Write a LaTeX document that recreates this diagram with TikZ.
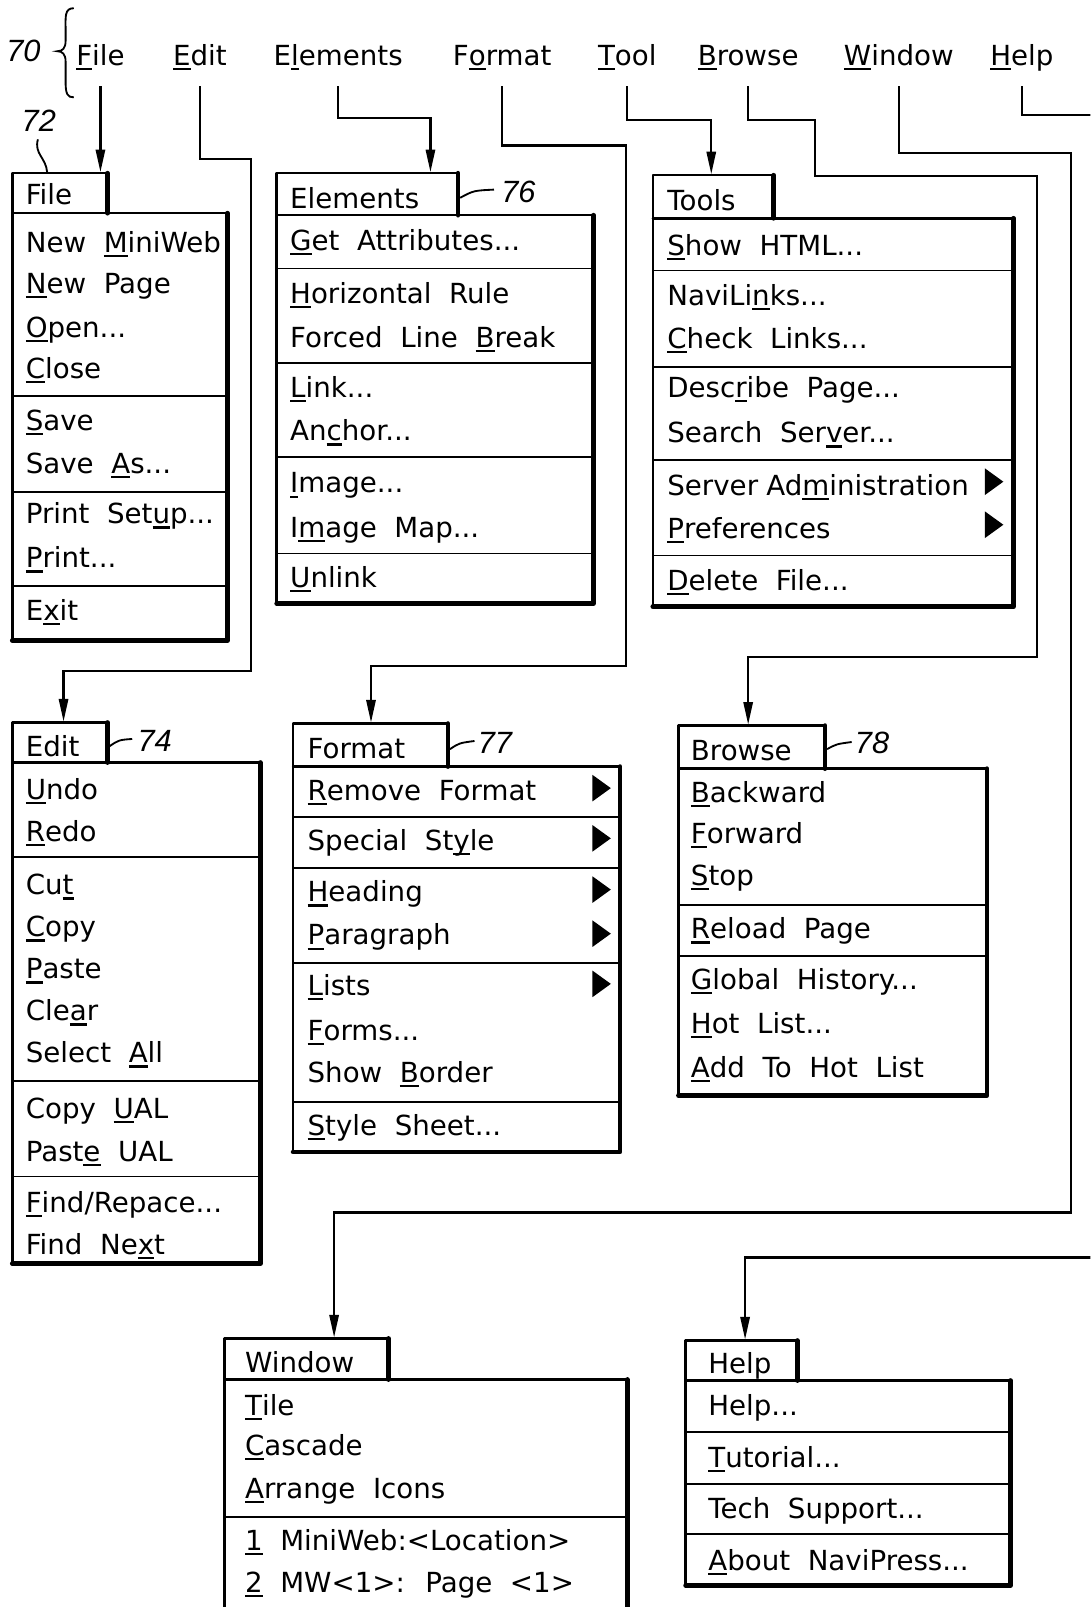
\documentclass[tikz,border=0pt]{standalone}
\usepackage{fontspec}
\setmainfont{DejaVu Sans}[WordSpace=2]
\newfontfamily\numfont{Liberation Sans}
\usetikzlibrary{arrows.meta}
\newbox\ulbox
\newcommand\ul[1]{\setbox\ulbox\hbox{#1}\rlap{\vrule height -2.5pt depth 4.7pt width \wd\ulbox}\box\ulbox}
\newcommand\mfont{\fontsize{27}{32}\selectfont}
\newcommand\rfont{\numfont\itshape\fontsize{30}{36}\selectfont}
\newcommand\mx{0}
\newcommand\mi[3]{\node[item] (#1) at (\mx,#2) {#3};}
\newcommand\menubox[6]{%
  \draw[boxline] (#1,#6) -- (#1,#2) -- (#3,#2);
  \draw[shadowline] (#3,#2) -- (#3,#4);
  \draw[boxline] (#1,#4) -- (#5,#4);
  \draw[shadowline] (#5,#4) -- (#5,#6) -- (#1,#6);}
\newcommand\sep[3]{\draw[sepline] (#1,#3) -- (#2,#3);}
\newcommand\tri[2]{\fill (#1,#2-13) -- (#1+18,#2) -- (#1,#2+13) -- cycle;}
\begin{document}
\begin{tikzpicture}[x=1pt,y=-1pt,
  boxline/.style={line width=2.4pt,line cap=round,line join=round},
  shadowline/.style={line width=4.6pt,line cap=round,line join=round},
  sepline/.style={line width=1.8pt},
  conn/.style={line width=2.2pt},
  arr/.style={conn,-{Triangle[width=9pt,length=22pt]}},
  item/.style={anchor=base west,inner sep=0pt,font=\mfont},
  bar/.style={anchor=base,inner xsep=0pt,inner ysep=14pt,text height=20pt,text depth=6pt,font=\mfont},
  refnum/.style={anchor=base west,inner sep=0pt,font=\rfont},
  leader/.style={line width=1.8pt}]
\useasboundingbox (0,0) rectangle (1064,1568);
\clip (0,0) rectangle (1064,1568);

% ---------- menu bar ----------
\node[refnum] (r70) at (6,60) {70};
\draw[leader] (72,8) .. controls (63,8) and (64,16) .. (64,28) -- (64,40)
  .. controls (64,47) and (61,50) .. (56,50)
  .. controls (61,50) and (64,53) .. (64,60) -- (64,80)
  .. controls (64,92) and (66,95) .. (72,95);
\node[bar] (bFile) at (98,64) {\ul{F}ile};
\node[bar] (bEdit) at (195,64) {\ul{E}dit};
\node[bar] (bElem) at (330,64) {E\ul{l}ements};
\node[bar] (bFormat) at (490,64) {F\ul{o}rmat};
\node[bar] (bTool) at (612,64) {\ul{T}ool};
\node[bar] (bBrowse) at (730,64) {\ul{B}rowse};
\node[bar] (bWindow) at (877,64) {\ul{W}indow};
\node[bar] (bHelp) at (997,64) {\ul{H}elp};

% arrow targets on the tabs
\coordinate (inFile) at (98,168);
\coordinate (inElem) at (420,168);
\coordinate (inTool) at (694,170);
\coordinate (inEdit) at (62,704);
\coordinate (inFormat) at (362,705);
\coordinate (inBrowse) at (730,707);
\coordinate (inWindow) at (326,1305);
\coordinate (inHelp) at (727,1307);

% ---------- connectors ----------
\draw[arr] (bFile.south) -- (inFile);
\draw[arr] (bEdit.south) |- (245,155) |- (62,655) -- (inEdit);
\draw[arr] (bElem.south) |- (420,115) -- (inElem);
\draw[arr] (bFormat.south) |- (611,142) |- (362,650) -- (inFormat);
\draw[arr] (bTool.south) |- (694,117) -- (inTool);
\draw[arr] (bBrowse.south) |- (795,117) |- (1012,172) |- (730,641) -- (inBrowse);
\draw[arr] (bWindow.south) |- (1045,149) |- (326,1183) -- (inWindow);
\draw[arr] (bHelp.south) |- (1085,112) |- (727,1227) -- (inHelp);

% ---------- File menu ----------
\node[refnum] (r72) at (21,128) {72};
\draw[leader] (37,136) .. controls (33,150) and (45,154) .. (46,168);
\menubox{12}{169}{105}{208}{222}{625}
\sep{12}{222}{386}\sep{12}{222}{480}\sep{12}{222}{572}
\renewcommand\mx{25}
\mi{tFile}{200}{File}
\mi{f1}{246}{New \ul{M}iniWeb}
\mi{f2}{286}{\ul{N}ew Page}
\mi{f3}{329}{\ul{O}pen...}
\mi{f4}{369}{\ul{C}lose}
\mi{f5}{420}{\ul{S}ave}
\mi{f6}{462}{Save \ul{A}s...}
\mi{f7}{511}{Print Set\ul{u}p...}
\mi{f8}{554}{\ul{P}rint...}
\mi{f9}{605}{E\ul{x}it}

% ---------- Elements menu ----------
\menubox{270}{169}{447}{210}{579}{589}
\sep{270}{579}{262}\sep{270}{579}{354}\sep{270}{579}{446}\sep{270}{579}{540}
\draw[leader] (449,193) .. controls (462,186) .. (482,185);
\node[refnum] (r76) at (489,198) {76};
\renewcommand\mx{283}
\mi{tElem}{203}{Elements}
\mi{e1}{244}{\ul{G}et Attributes...}
\mi{e2}{296}{\ul{H}orizontal Rule}
\mi{e3}{339}{Forced Line \ul{B}reak}
\mi{e4}{388}{\ul{L}ink...}
\mi{e5}{430}{An\ul{c}hor...}
\mi{e6}{481}{\ul{I}mage...}
\mi{e7}{524}{I\ul{m}age Map...}
\mi{e8}{573}{\ul{U}nlink}

% ---------- Tools menu ----------
\menubox{637}{171}{755}{213}{989}{592}
\sep{637}{989}{264}\sep{637}{989}{358}\sep{637}{989}{449}\sep{637}{989}{542}
\renewcommand\mx{651}
\mi{tTool}{205}{Tools}
\mi{t1}{249}{\ul{S}how HTML...}
\mi{t2}{298}{NaviLi\ul{n}ks...}
\mi{t3}{340}{\ul{C}heck Links...}
\mi{t4}{388}{Desc\ul{r}ibe Page...}
\mi{t5}{432}{Search Ser\ul{v}er...}
\mi{t6}{483}{Server\kern8pt Ad\ul{m}inistration}
\mi{t7}{525}{\ul{P}references}
\mi{t8}{576}{\ul{D}elete File...}
\tri{961}{470}\tri{961}{512}

% ---------- Edit menu ----------
\menubox{12}{705}{105}{744}{254}{1233}
\sep{12}{254}{836}\sep{12}{254}{1055}\sep{12}{254}{1148}
\draw[leader] (107,728) .. controls (116,722) .. (129,721);
\node[refnum] (r74) at (134,733) {74};
\renewcommand\mx{25}
\mi{tEdit}{738}{Edit}
\mi{d1}{780}{\ul{U}ndo}
\mi{d2}{821}{\ul{R}edo}
\mi{d3}{873}{Cu\ul{t}}
\mi{d4}{914}{\ul{C}opy}
\mi{d5}{955}{\ul{P}aste}
\mi{d6}{996}{Cle\ul{a}r}
\mi{d7}{1037}{Select \ul{A}ll}
\mi{d8}{1091}{Copy \ul{U}AL}
\mi{d9}{1133}{Past\ul{e} UAL}
\mi{d10}{1183}{\ul{F}ind/Repace...}
\mi{d11}{1224}{Find Ne\ul{x}t}

% ---------- Format menu ----------
\menubox{286}{706}{437}{748}{605}{1124}
\sep{286}{605}{797}\sep{286}{605}{847}\sep{286}{605}{940}\sep{286}{605}{1075}
\draw[leader] (439,731) .. controls (448,725) .. (463,723);
\node[refnum] (r77) at (466,735) {77};
\renewcommand\mx{300}
\mi{tFormat}{740}{Format}
\mi{m1}{781}{\ul{R}emove Format}
\mi{m2}{830}{Special St\ul{y}le}
\mi{m3}{880}{\ul{H}eading}
\mi{m4}{922}{\ul{P}aragraph}
\mi{m5}{971}{\ul{L}ists}
\mi{m6}{1015}{\ul{F}orms...}
\mi{m7}{1056}{Show \ul{B}order}
\mi{m8}{1108}{\ul{S}tyle Sheet...}
\tri{578}{769}\tri{578}{818}\tri{578}{868}\tri{578}{911}\tri{578}{960}

% ---------- Browse menu ----------
\menubox{662}{708}{805}{750}{963}{1069}
\sep{662}{963}{883}\sep{662}{963}{933}
\draw[leader] (807,731) .. controls (816,726) .. (831,724);
\node[refnum] (r78) at (834,735) {78};
\renewcommand\mx{674}
\mi{tBrowse}{742}{Browse}
\mi{w1}{783}{\ul{B}ackward}
\mi{w2}{823}{\ul{F}orward}
\mi{w3}{864}{\ul{S}top}
\mi{w4}{916}{\ul{R}eload Page}
\mi{w5}{965}{\ul{G}lobal History...}
\mi{w6}{1008}{\ul{H}ot List...}
\mi{w7}{1051}{\ul{A}dd To Hot List}

% ---------- Window menu ----------
\menubox{219}{1306}{379}{1346}{612}{1600}
\sep{219}{612}{1480}
\renewcommand\mx{239}
\mi{tWindow}{1339}{Window}
\mi{n1}{1381}{\ul{T}ile}
\mi{n2}{1420}{\ul{C}ascade}
\mi{n3}{1462}{\ul{A}rrange Icons}
\mi{n4}{1513}{\ul{1} MiniWeb:<Location>}
\mi{n5}{1554}{\ul{2} MW<1>: Page <1>}

% ---------- Help menu ----------
\menubox{669}{1308}{778}{1347}{986}{1547}
\sep{669}{986}{1397}\sep{669}{986}{1448}\sep{669}{986}{1497}
\renewcommand\mx{691}
\mi{tHelp}{1340}{Help}
\mi{h1}{1381}{Help...}
\mi{h2}{1432}{\ul{T}utorial...}
\mi{h3}{1482}{Tech Support...}
\mi{h4}{1532}{\ul{A}bout NaviPress...}
\end{tikzpicture}
\end{document}
